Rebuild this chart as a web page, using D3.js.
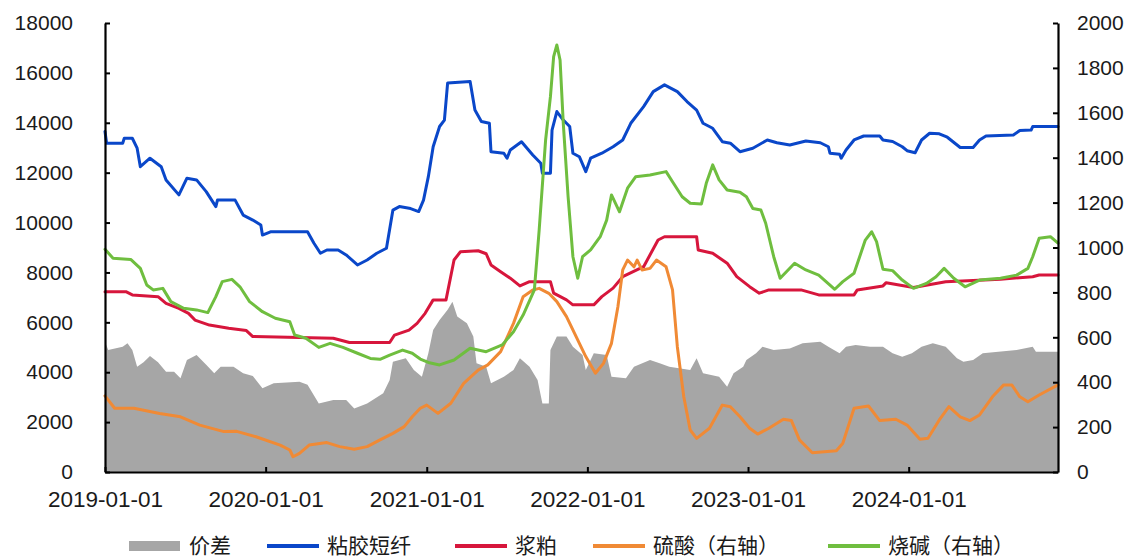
<!DOCTYPE html>
<html><head><meta charset="utf-8">
<script src="https://cdn.jsdelivr.net/npm/d3@7"></script>
<style>
html,body{margin:0;padding:0;background:#fff;}
svg{display:block;}
</style></head>
<body>
<svg id="chart" width="1125" height="560"></svg>
<script>
// ---- data (dates as decimal years) ----
const seriesNames = ["价差", "粘胶短纤", "浆粕", "硫酸（右轴）", "烧碱（右轴）"];
const leftTicks = [0,2000,4000,6000,8000,10000,12000,14000,16000,18000];
const rightTicks = [0,200,400,600,800,1000,1200,1400,1600,1800,2000];
const xTickLabels = ["2019-01-01","2020-01-01","2021-01-01","2022-01-01","2023-01-01","2024-01-01"];
const dateEnd = 2024.927;

const spread = [[2019.00,5220],[2019.02,4890],[2019.11,5020],[2019.14,5160],[2019.17,4890],[2019.20,4220],[2019.24,4400],[2019.28,4650],[2019.33,4400],[2019.38,4020],[2019.43,4020],[2019.47,3760],[2019.51,4490],[2019.57,4690],[2019.63,4300],[2019.68,3960],[2019.72,4220],[2019.80,4220],[2019.86,3960],[2019.92,3850],[2019.98,3360],[2020.05,3560],[2020.21,3620],[2020.26,3500],[2020.33,2750],[2020.42,2890],[2020.50,2890],[2020.55,2550],[2020.63,2750],[2020.73,3160],[2020.77,3690],[2020.79,4420],[2020.87,4560],[2020.92,4090],[2020.97,3820],[2021.01,4760],[2021.04,5690],[2021.08,6090],[2021.13,6500],[2021.16,6830],[2021.19,6230],[2021.25,5960],[2021.29,5430],[2021.31,4360],[2021.37,4220],[2021.40,3560],[2021.48,3820],[2021.54,4090],[2021.58,4560],[2021.64,4220],[2021.69,3690],[2021.72,2750],[2021.76,2750],[2021.77,4890],[2021.81,5430],[2021.87,5430],[2021.91,5020],[2021.97,4690],[2021.99,4090],[2022.04,4760],[2022.12,4690],[2022.15,3820],[2022.24,3760],[2022.29,4220],[2022.39,4490],[2022.45,4360],[2022.51,4220],[2022.64,4090],[2022.68,4560],[2022.72,3960],[2022.82,3820],[2022.87,3420],[2022.91,3960],[2022.97,4220],[2022.99,4490],[2023.05,4760],[2023.09,5020],[2023.16,4890],[2023.26,4950],[2023.34,5160],[2023.45,5220],[2023.50,5020],[2023.57,4760],[2023.61,5020],[2023.67,5090],[2023.76,5020],[2023.84,5020],[2023.90,4760],[2023.96,4620],[2024.02,4760],[2024.08,5020],[2024.15,5160],[2024.23,5020],[2024.30,4560],[2024.34,4420],[2024.40,4490],[2024.46,4760],[2024.67,4890],[2024.77,5020],[2024.79,4820],[2024.927,4820]];

const viscose = [[2019.00,13650],[2019.01,13180],[2019.11,13180],[2019.12,13380],[2019.17,13380],[2019.20,12980],[2019.22,12240],[2019.28,12580],[2019.35,12240],[2019.38,11710],[2019.46,11110],[2019.51,11780],[2019.57,11710],[2019.63,11240],[2019.69,10640],[2019.70,10900],[2019.81,10900],[2019.86,10300],[2019.92,10100],[2019.97,9900],[2019.98,9500],[2020.03,9630],[2020.26,9630],[2020.30,9170],[2020.34,8770],[2020.38,8900],[2020.45,8900],[2020.50,8700],[2020.57,8300],[2020.63,8500],[2020.69,8770],[2020.75,8970],[2020.79,10500],[2020.83,10640],[2020.90,10560],[2020.95,10440],[2020.98,10900],[2021.01,11840],[2021.04,13040],[2021.08,13850],[2021.11,14110],[2021.13,15590],[2021.27,15650],[2021.30,14510],[2021.34,14050],[2021.39,13980],[2021.40,12840],[2021.48,12780],[2021.50,12580],[2021.52,12910],[2021.59,13240],[2021.66,12710],[2021.71,12380],[2021.72,11980],[2021.77,11980],[2021.78,13710],[2021.81,14450],[2021.85,14110],[2021.89,13850],[2021.91,12780],[2021.95,12640],[2021.99,12040],[2022.02,12580],[2022.09,12780],[2022.16,13040],[2022.22,13310],[2022.27,13980],[2022.35,14650],[2022.41,15250],[2022.48,15520],[2022.56,15250],[2022.62,14850],[2022.68,14510],[2022.72,13980],[2022.78,13780],[2022.84,13240],[2022.89,13180],[2022.95,12840],[2023.03,12980],[2023.12,13310],[2023.18,13200],[2023.26,13110],[2023.36,13270],[2023.45,13200],[2023.50,13040],[2023.51,12780],[2023.57,12740],[2023.58,12580],[2023.61,12910],[2023.66,13310],[2023.72,13470],[2023.82,13470],[2023.84,13310],[2023.90,13250],[2023.96,13040],[2023.99,12880],[2024.04,12800],[2024.08,13310],[2024.13,13580],[2024.19,13560],[2024.24,13420],[2024.32,13010],[2024.40,13010],[2024.44,13310],[2024.48,13470],[2024.65,13510],[2024.69,13690],[2024.76,13710],[2024.77,13850],[2024.927,13850]];

const pulp = [[2019.00,7230],[2019.13,7230],[2019.17,7100],[2019.33,7030],[2019.38,6760],[2019.46,6560],[2019.52,6360],[2019.56,6090],[2019.65,5890],[2019.77,5760],[2019.88,5670],[2019.92,5430],[2020.42,5360],[2020.52,5190],[2020.77,5190],[2020.80,5490],[2020.89,5690],[2020.94,5960],[2020.99,6360],[2021.04,6900],[2021.12,6900],[2021.17,8500],[2021.21,8830],[2021.32,8870],[2021.37,8750],[2021.40,8300],[2021.46,8030],[2021.52,7770],[2021.58,7460],[2021.64,7630],[2021.77,7630],[2021.79,7170],[2021.87,6900],[2021.91,6700],[2022.04,6700],[2022.09,7030],[2022.16,7370],[2022.22,7830],[2022.35,8230],[2022.44,9300],[2022.48,9430],[2022.68,9430],[2022.69,8900],[2022.78,8770],[2022.87,8370],[2022.93,7830],[2023.01,7430],[2023.07,7170],[2023.13,7300],[2023.33,7300],[2023.44,7100],[2023.66,7100],[2023.68,7300],[2023.84,7460],[2023.86,7590],[2024.03,7400],[2024.23,7630],[2024.57,7730],[2024.77,7830],[2024.81,7900],[2024.927,7900]];

const sulfuric = [[2019.00,339],[2019.06,284],[2019.18,284],[2019.34,261],[2019.47,246],[2019.59,209],[2019.74,180],[2019.82,181],[2019.94,157],[2020.09,120],[2020.15,98],[2020.17,68],[2020.21,83],[2020.27,120],[2020.38,131],[2020.46,113],[2020.55,101],[2020.63,113],[2020.71,143],[2020.79,172],[2020.86,202],[2020.91,246],[2020.96,284],[2021.00,298],[2021.07,261],[2021.15,306],[2021.23,395],[2021.32,454],[2021.38,477],[2021.46,536],[2021.54,662],[2021.60,781],[2021.66,811],[2021.70,818],[2021.76,796],[2021.81,759],[2021.87,692],[2021.93,603],[2021.99,514],[2022.05,440],[2022.10,484],[2022.15,573],[2022.19,736],[2022.22,900],[2022.25,944],[2022.29,914],[2022.31,944],[2022.34,900],[2022.39,907],[2022.43,944],[2022.49,914],[2022.53,811],[2022.56,558],[2022.60,335],[2022.64,187],[2022.68,150],[2022.76,195],[2022.84,298],[2022.89,291],[2022.95,246],[2023.01,195],[2023.06,169],[2023.13,195],[2023.22,235],[2023.27,229],[2023.32,143],[2023.40,86],[2023.55,95],[2023.59,128],[2023.66,284],[2023.75,294],[2023.82,229],[2023.92,235],[2023.99,209],[2024.07,146],[2024.12,150],[2024.19,232],[2024.25,291],[2024.32,246],[2024.38,229],[2024.44,254],[2024.52,335],[2024.59,388],[2024.64,388],[2024.69,335],[2024.74,313],[2024.81,343],[2024.927,388]];

const caustic = [[2019.00,992],[2019.05,952],[2019.16,947],[2019.22,907],[2019.26,833],[2019.30,811],[2019.36,818],[2019.41,759],[2019.49,729],[2019.57,722],[2019.64,710],[2019.69,781],[2019.73,848],[2019.79,858],[2019.84,825],[2019.90,759],[2019.98,714],[2020.06,685],[2020.15,669],[2020.18,610],[2020.25,596],[2020.33,555],[2020.40,573],[2020.48,555],[2020.57,529],[2020.65,506],[2020.71,502],[2020.77,521],[2020.85,543],[2020.91,529],[2020.96,503],[2021.01,488],[2021.08,477],[2021.17,499],[2021.27,551],[2021.37,536],[2021.47,566],[2021.54,625],[2021.60,699],[2021.67,811],[2021.70,1078],[2021.74,1479],[2021.77,1672],[2021.79,1850],[2021.81,1902],[2021.83,1835],[2021.85,1553],[2021.88,1226],[2021.91,959],[2021.94,863],[2021.97,959],[2022.02,989],[2022.08,1048],[2022.12,1122],[2022.15,1234],[2022.20,1159],[2022.25,1264],[2022.30,1315],[2022.39,1323],[2022.49,1338],[2022.53,1293],[2022.59,1226],[2022.64,1197],[2022.71,1194],[2022.74,1286],[2022.78,1368],[2022.82,1301],[2022.87,1256],[2022.95,1246],[2022.99,1226],[2023.03,1174],[2023.08,1167],[2023.11,1108],[2023.16,959],[2023.20,863],[2023.29,930],[2023.36,900],[2023.44,877],[2023.54,814],[2023.59,848],[2023.66,885],[2023.73,1033],[2023.77,1070],[2023.80,1026],[2023.84,903],[2023.90,897],[2023.96,855],[2024.03,818],[2024.11,840],[2024.17,870],[2024.22,907],[2024.28,863],[2024.35,825],[2024.44,855],[2024.57,863],[2024.67,877],[2024.74,907],[2024.77,959],[2024.81,1041],[2024.88,1048],[2024.927,1019]];

// ---- helpers ----
function toDate(dy){
  const y = Math.floor(dy);
  const s = Date.UTC(y,0,1), e = Date.UTC(y+1,0,1);
  return new Date(s + (dy - y) * (e - s));
}

const svg = d3.select("#chart");
const L = 105, R = 1058, T = 23, B = 472;
const x = d3.scaleUtc().domain([toDate(2019), toDate(dateEnd)]).range([L, R]);
const yL = d3.scaleLinear().domain([0,18000]).range([B,T]);
const yR = d3.scaleLinear().domain([0,2000]).range([B,T]);

const colors = {spread:"#a6a6a6", viscose:"#0a47c9", pulp:"#d7163c", sulfuric:"#f08a35", caustic:"#6fbe3f"};

// area
svg.append("path")
  .datum(spread)
  .attr("fill", colors.spread)
  .attr("d", d3.area().x(d=>x(toDate(d[0]))).y0(B).y1(d=>yL(d[1])));

const lineL = d3.line().x(d=>x(toDate(d[0]))).y(d=>yL(d[1]));
const lineR = d3.line().x(d=>x(toDate(d[0]))).y(d=>yR(d[1]));

[[viscose,lineL,colors.viscose],[pulp,lineL,colors.pulp],[sulfuric,lineR,colors.sulfuric],[caustic,lineR,colors.caustic]]
.forEach(([data,gen,c])=>{
  svg.append("path").datum(data)
    .attr("fill","none").attr("stroke",c).attr("stroke-width",3)
    .attr("stroke-linejoin","round").attr("stroke-linecap","round")
    .attr("d", gen);
});

// axes
const font = "'Liberation Sans', Arial, sans-serif";
function styleAxis(g, size){
  g.select(".domain").attr("stroke","#000").attr("stroke-width",2.2);
  g.selectAll(".tick line").attr("stroke","#000").attr("stroke-width",2);
  g.selectAll(".tick text").attr("fill","#1a1a1a").style("font-family",font).style("font-size",size+"px");
}
const gL = svg.append("g").attr("transform",`translate(${L},0)`)
  .call(d3.axisLeft(yL).tickValues(leftTicks).tickFormat(d=>String(d)).tickSize(-5).tickSizeOuter(0).tickPadding(32));
styleAxis(gL, 21);
const gR = svg.append("g").attr("transform",`translate(${R},0)`)
  .call(d3.axisRight(yR).tickValues(rightTicks).tickFormat(d=>String(d)).tickSize(-5).tickSizeOuter(0).tickPadding(19));
styleAxis(gR, 21);
const xTickDates = xTickLabels.map(s=>new Date(s+"T00:00:00Z"));
const gB = svg.append("g").attr("transform",`translate(0,${B})`)
  .call(d3.axisBottom(x).tickValues(xTickDates).tickFormat((d,i)=>xTickLabels[i]).tickSize(-5).tickSizeOuter(0).tickPadding(19));
styleAxis(gB, 22.5);

// legend
const legendX = [129, 267, 455, 593, 828];
const legendY = 546;
const lg = svg.append("g");
const legendColors = [colors.spread, colors.viscose, colors.pulp, colors.sulfuric, colors.caustic];
seriesNames.forEach((name,i)=>{
  const g = lg.append("g").attr("transform",`translate(${legendX[i]},${legendY})`);
  if(i===0){
    g.append("rect").attr("x",0).attr("y",-5).attr("width",51).attr("height",10).attr("fill",legendColors[i]);
  } else {
    g.append("line").attr("x1",0).attr("x2",52).attr("y1",0).attr("y2",0)
      .attr("stroke",legendColors[i]).attr("stroke-width",4);
  }
  g.append("text").attr("x",60).attr("y",0).attr("dy","0.35em")
    .style("font-family","'Noto Sans CJK SC', sans-serif").style("font-size","21px")
    .attr("fill","#1a1a1a").text(name);
});
</script>
</body></html>
